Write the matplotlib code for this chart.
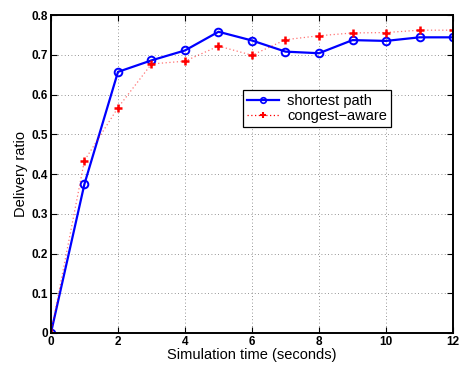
import numpy as np
import matplotlib
matplotlib.use("Agg")
from matplotlib import pyplot as plt

# data
time_s = [0, 1, 2, 3, 4, 5, 6, 7, 8, 9, 10, 11, 12]
shortest_path = [0.0, 0.375, 0.657, 0.686, 0.711, 0.758, 0.736, 0.708, 0.704, 0.737, 0.735, 0.744, 0.744]
congest_aware = [0.0, 0.434, 0.567, 0.677, 0.684, 0.722, 0.699, 0.738, 0.748, 0.755, 0.756, 0.762, 0.762]

plt.rcParams['font.family'] = ['Liberation Sans', 'DejaVu Sans']

fig = plt.figure(figsize=(4.59, 3.65), dpi=100)
ax = fig.add_axes([0.111, 0.0877, 0.876, 0.871])

ax.plot(time_s, shortest_path, '-o', color='blue', linewidth=1.6, markersize=5.5,
        markerfacecolor='none', markeredgewidth=1.4, label='shortest path')
ax.plot(time_s, congest_aware, color='red', linestyle=(0, (1, 2)), linewidth=0.9, alpha=0.55)
ax.plot(time_s, congest_aware, '+', color='red', markersize=5.5, markeredgewidth=1.8)
# legend proxy handles (single marker in the middle, like the original)
h1, = ax.plot([], [], '-o', color='blue', linewidth=1.6, markersize=4,
              markerfacecolor='none', markeredgewidth=1.2, label='shortest path')
h2, = ax.plot([], [], color='red', linestyle=(0, (1, 2)), linewidth=0.9, marker='+',
              markersize=4, markeredgewidth=1.5, label='congest\u2212aware')

ax.set_xlim(0, 12)
ax.set_ylim(0, 0.8)
ax.set_xticks(np.arange(0, 13, 2))
ax.set_yticks(np.arange(0, 0.81, 0.1))
ax.set_xticklabels([str(v) for v in range(0, 13, 2)], fontweight='bold', fontsize=8.5)
ax.set_yticklabels(['0'] + [f"{v:.1f}" for v in np.arange(0.1, 0.81, 0.1)], fontweight='bold', fontsize=8.5)
ax.tick_params(direction='in', top=True, right=True, length=4, width=0.8, pad=2)
ax.grid(True, linestyle=(0, (1, 3)), color='0.45', linewidth=0.6)
for s in ax.spines.values():
    s.set_linewidth(1.4)

ax.set_xlabel("Simulation time (seconds)", fontsize=10.5, labelpad=0)
ax.set_ylabel("Delivery ratio", fontsize=10.5, labelpad=3)

leg = ax.legend(handles=[h1, h2], loc='upper left', bbox_to_anchor=(0.4776, 0.764), fontsize=10.5,
                numpoints=1, frameon=True, fancybox=False, edgecolor='black', framealpha=1,
                borderpad=0.25, labelspacing=0.1, handlelength=2.2, handletextpad=0.6,
                borderaxespad=0)
leg.get_frame().set_linewidth(0.9)

fig.savefig("out.png", dpi=100)
